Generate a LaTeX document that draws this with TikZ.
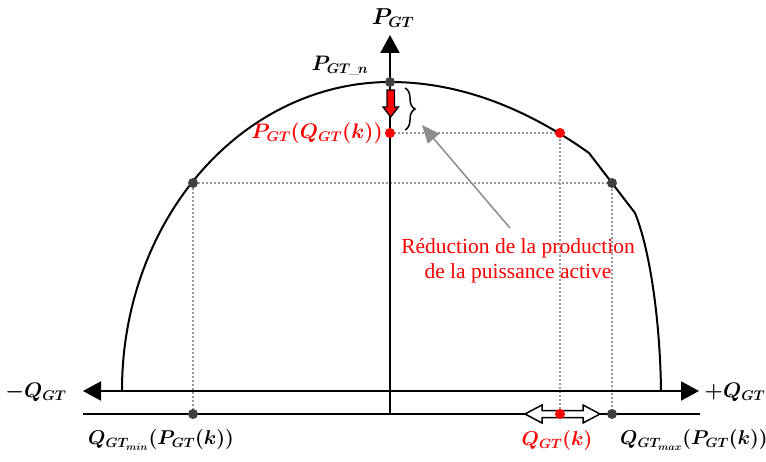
\RequirePackage{fix-cm}
\documentclass[tikz,border=0pt]{standalone}
\usepackage{amsmath,bm}
\usepackage{fontspec}
\newfontfamily\tnr{Liberation Serif}
\usetikzlibrary{arrows.meta,decorations.pathreplacing}
\DeclareMathSizes{21}{21}{14}{10.5}
\DeclareMathSizes{23}{23}{15}{11}
\DeclareMathSizes{20}{20}{13.5}{10}
\definecolor{dotgray}{HTML}{404040}
\definecolor{guidegray}{HTML}{999999}
\definecolor{arrgray}{HTML}{8C8C8C}
\tikzset{
  axisline/.style={line width=2pt},
  curveline/.style={line width=2pt},
  guide/.style={guidegray, line width=1.6pt, dash pattern=on 1.6pt off 2.4pt},
  gdot/.style={circle, fill=dotgray, inner sep=0pt, minimum size=10pt},
  rdot/.style={circle, fill=red, inner sep=0pt, minimum size=10pt},
  lab/.style={font=\fontsize{21}{25}\selectfont, inner sep=0pt},
  blab/.style={font=\fontsize{20}{24}\selectfont, inner sep=0pt},
  axtip/.tip={Triangle[length=18pt,width=19pt]},
}
\begin{document}
\begin{tikzpicture}[x=1pt,y=-1pt]
\useasboundingbox (0,0) rectangle (766,462);

% axes
\coordinate (vb) at (390,415);
\coordinate (vt) at (390,35);
\coordinate (hl) at (83,391);
\coordinate (hr) at (699,391);
\coordinate (ll) at (83,414);
\coordinate (lr) at (700,414);

% points
\coordinate (top) at (390,82);
\coordinate (pk) at (390,133);
\coordinate (rc) at (560,133);
\coordinate (lc) at (193,183);
\coordinate (mc) at (612,183);
\coordinate (lb) at (193,414);
\coordinate (mb) at (612,414);
\coordinate (rb) at (560,414);

% guides
\draw[guide] (pk) -- (rc) -- (rb);
\draw[guide] (lb) -- (lc) -- (mc) -- (mb);

\draw[axisline,-axtip] (vb) -- (vt);
\draw[axisline,axtip-axtip] (hl) -- (hr);
\draw[axisline] (ll) -- (lr);

% capability curve
\draw[curveline] plot[domain=180:90, samples=80] ({390+268*cos(\x)},{390-308*sin(\x)})
  .. controls (456.3,82) and (522.7,105.7) .. (589,153)
  -- (635,213) .. controls (650,250) and (660,320) .. (661,390);

% red reduction arrow
\draw[fill=red, line width=1.3pt, line join=miter]
  (387,90) -- (394.5,90) -- (394.5,107) -- (398.5,107) -- (390.75,117) -- (383,107) -- (387,107) -- cycle;

% brace
\draw[line width=1.5pt, decorate, decoration={brace, amplitude=10pt}] (405,88) -- (405,130);

% gray pointer
\coordinate (gtail) at (510,228);
\coordinate (ghead) at (422,125);
\draw[arrgray, line width=1.5pt, -{Triangle[length=18pt,width=15pt]}] (gtail) -- (ghead);

% hollow double arrow
\draw[fill=white, line width=1.5pt, line join=miter]
  (525,414) -- (542,405) -- (542,410.5) -- (583,410.5) -- (583,405) -- (600,414)
  -- (583,423) -- (583,417.5) -- (542,417.5) -- (542,423) -- cycle;

% dots
\node[gdot] (dtop) at (top) {};
\node[rdot] (dpk) at (pk) {};
\node[rdot] (drc) at (rc) {};
\node[gdot] (dlc) at (lc) {};
\node[gdot] (dmc) at (mc) {};
\node[gdot] (dlb) at (lb) {};
\node[gdot] (dmb) at (mb) {};
\node[rdot] (drb) at (rb) {};

% labels
\node[font=\fontsize{23}{27}\selectfont, inner sep=0pt] (lptop) at (393,18) {$\bm{P_{GT}}$};
\node[lab] (lptopn) at (340,66) {$\bm{P_{GT\mkern-2mu\_\mkern-1mu n}}$};
\node[lab, text=red, anchor=east] (lpk) at (383,133) {$\bm{P_{GT}(Q_{GT}(k))}$};
\node[lab] (lmq) at (36,392) {$\bm{-Q_{GT}}$};
\node[lab] (lpq) at (735,392) {$\bm{+Q_{GT}}$};
\node[blab, anchor=west] (lqmin) at (88,440) {$\bm{Q_{GT_{min}}(P_{GT}(k))}$};
\node[blab, text=red] (lqk) at (557,440) {$\bm{Q_{GT}(k)}$};
\node[blab, anchor=west] (lqmax) at (620,440) {$\bm{Q_{GT_{max}}(P_{GT}(k))}$};
\node[font=\tnr\fontsize{21.5}{25}\selectfont, text=red, align=center, inner sep=0pt] (txt) at (518,261)
  {Réduction de la production\\de la puissance active};
\end{tikzpicture}
\end{document}
